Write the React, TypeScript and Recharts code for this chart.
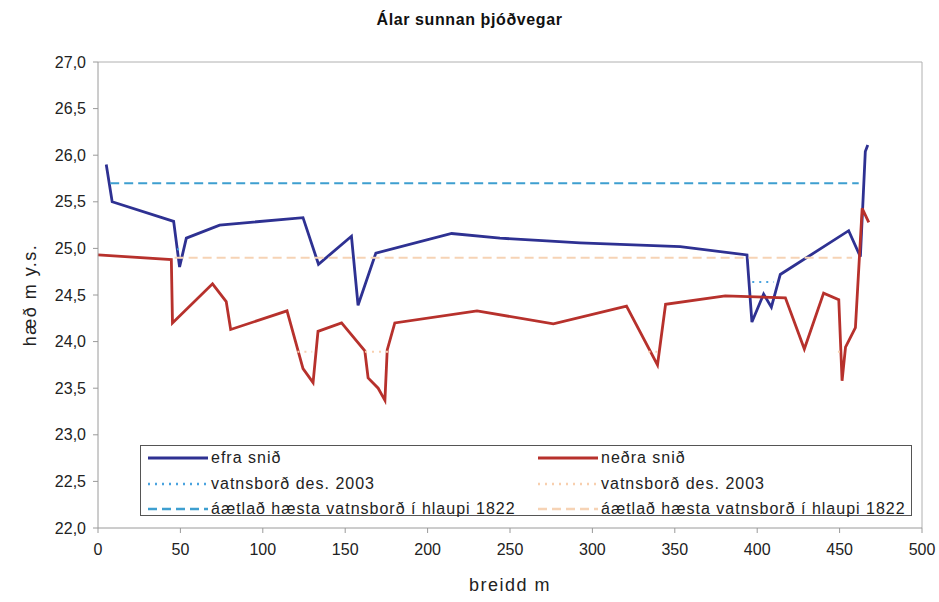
import React from "react";
import { LineChart, Line, XAxis, YAxis, Legend, ReferenceLine, Label } from "recharts";

// efra snið (upper cross section)
const upperX = [5.0, 8.6, 45.9, 49.5, 53.6, 73.8, 124.4, 133.8, 153.8, 157.8, 168.6, 214.6, 243.9, 272.3, 292.5, 353.3, 393.8, 396.8, 403.9, 408.6, 414.0, 455.5, 462.6, 465.6, 467.1];
const upperY = [25.9, 25.5, 25.29, 24.8, 25.11, 25.25, 25.33, 24.83, 25.13, 24.39, 24.95, 25.16, 25.11, 25.08, 25.06, 25.02, 24.93, 24.21, 24.51, 24.37, 24.72, 25.19, 24.91, 26.04, 26.11];

// neðra snið (lower cross section)
const lowerX = [0, 44.5, 45.2, 69.5, 77.8, 80.5, 114.7, 124.4, 130.5, 133.5, 147.8, 161.9, 163.9, 170.0, 174.1, 175.5, 180.1, 230.0, 276.3, 320.7, 339.5, 344.4, 380.6, 417.1, 428.6, 440.3, 449.5, 451.5, 453.6, 459.6, 463.7, 467.7];
const lowerY = [24.93, 24.88, 24.2, 24.62, 24.43, 24.13, 24.33, 23.71, 23.56, 24.11, 24.2, 23.9, 23.61, 23.5, 23.37, 23.91, 24.2, 24.33, 24.19, 24.38, 23.75, 24.4, 24.49, 24.47, 23.92, 24.52, 24.45, 23.58, 23.94, 24.15, 25.43, 25.28];

// vatnsborð des. 2003 (segments, null breaks the line)
const upperWaterX = [48.0, 50.5, 51.0, 397.0, 410.0];
const upperWaterY = [24.99, 24.99, null, 24.64, 24.64];
const lowerWaterX = [121.0, 130.0, 131.0, 162.0, 176.0, 177.0, 334.0, 341.0, 342.0, 449.0, 452.0];
const lowerWaterY = [23.89, 23.89, null, 23.89, 23.89, null, 23.89, 23.89, null, 23.89, 23.89];

// áætlað hæsta vatnsborð í hlaupi 1822
const upperFloodX = [7.4, 461.6];
const upperFloodY = [25.7, 25.7];
const lowerFloodX = [46.5, 457.6];
const lowerFloodY = [24.9, 24.9];

const xTicks = [0, 50, 100, 150, 200, 250, 300, 350, 400, 450, 500];
const yTicks = [22, 22.5, 23, 23.5, 24, 24.5, 25, 25.5, 26, 26.5, 27];

const zip = (xs: number[], ys: (number | null)[]) => xs.map((x, i) => ({ x, y: ys[i] }));

const FONT = "'Liberation Sans', Arial, sans-serif";

const series = [
  { key: "upper", name: "efra snið", data: zip(upperX, upperY), color: "#2e3192", width: 2.8, dash: undefined },
  { key: "lower", name: "neðra snið", data: zip(lowerX, lowerY), color: "#b7312c", width: 2.8, dash: undefined },
  { key: "upperWater", name: "vatnsborð des. 2003", data: zip(upperWaterX, upperWaterY), color: "#4aa3df", width: 2, dash: "2 5" },
  { key: "lowerWater", name: "vatnsborð des. 2003", data: zip(lowerWaterX, lowerWaterY), color: "#f8cfae", width: 2, dash: "2 5" },
  { key: "upperFlood", name: "áætlað hæsta vatnsborð í hlaupi 1822", data: zip(upperFloodX, upperFloodY), color: "#3e9fd0", width: 2, dash: "9 5" },
  { key: "lowerFlood", name: "áætlað hæsta vatnsborð í hlaupi 1822", data: zip(lowerFloodX, lowerFloodY), color: "#f6d3b5", width: 2, dash: "9 5" },
];

// legend order: left column blue series, right column red series
const legendRows = [
  [series[0], series[1]],
  [series[2], series[3]],
  [series[4], series[5]],
];

const LegendBox = () => (
  <div style={{ position: "relative", width: 772, height: 71, border: "1px solid #555", boxSizing: "border-box", background: "#fff", fontFamily: FONT, fontSize: 16, letterSpacing: 1, color: "#222" }}>
    {legendRows.map((row, r) =>
      row.map((s, c) => (
        <div key={s.key} style={{ position: "absolute", left: c === 0 ? 7 : 397, top: 2 + r * 25.5, height: 20, display: "flex", alignItems: "center", whiteSpace: "nowrap" }}>
          <svg width={60} height={10} style={{ marginRight: 3 }}>
            <line x1={0} y1={5} x2={60} y2={5} stroke={s.color} strokeWidth={s.width + 0.3} strokeDasharray={s.dash} />
          </svg>
          <span>{s.name}</span>
        </div>
      ))
    )}
  </div>
);

const fmt = (v: number) => v.toFixed(1).replace(".", ",");

export default function App() {
  return (
    <div style={{ position: "absolute", left: 0, top: 0, width: 939, height: 602, background: "#fff", fontFamily: FONT }}>
      <div style={{ position: "absolute", top: 11, width: 939, textAlign: "center", fontWeight: "bold", fontSize: 16, letterSpacing: 0.6, color: "#111" }}>
        Álar sunnan þjóðvegar
      </div>
      <LineChart width={939} height={602} margin={{ top: 62, right: 17, bottom: 0, left: 0 }} style={{ fontFamily: FONT }}>
        <XAxis
          type="number"
          dataKey="x"
          domain={[0, 500]}
          ticks={xTicks}
          height={74}
          allowDuplicatedCategory={false}
          stroke="#9a9a9a"
          tickSize={5}
          tickMargin={11}
          tick={{ fill: "#222", fontSize: 16 }}
        >
          <Label value="breidd m" position="center" dy={20} style={{ fill: "#222", fontSize: 18, letterSpacing: 1.5 }} />
        </XAxis>
        <YAxis
          type="number"
          domain={[22, 27]}
          ticks={yTicks}
          width={98}
          stroke="#9a9a9a"
          tickSize={5}
          tickMargin={7}
          tickFormatter={fmt}
          tick={{ fill: "#222", fontSize: 16 }}
        >
          <Label value="hæð m y.s." position="center" angle={-90} dx={-19} style={{ fill: "#222", fontSize: 18, letterSpacing: 1.5, textAnchor: "middle" }} />
        </YAxis>
        <ReferenceLine y={27} stroke="#b0b0b0" />
        <ReferenceLine x={500} stroke="#b0b0b0" />
        {series.map((s) => (
          <Line
            key={s.key}
            data={s.data}
            dataKey="y"
            name={s.name}
            type="linear"
            stroke={s.color}
            strokeWidth={s.width}
            strokeDasharray={s.dash}
            dot={false}
            activeDot={false}
            connectNulls={false}
            isAnimationActive={false}
          />
        ))}
        <Legend layout="horizontal" verticalAlign="middle" align="center" wrapperStyle={{ left: 140, top: 445, width: 772, height: 71 }} content={() => <LegendBox />} />
      </LineChart>
    </div>
  );
}
